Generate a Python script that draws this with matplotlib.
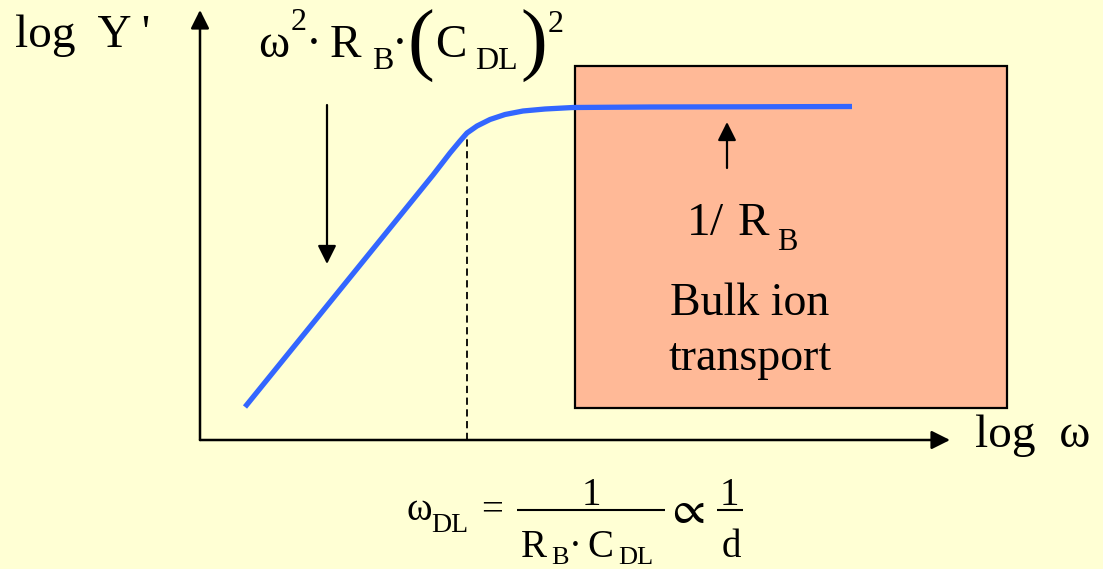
import matplotlib.pyplot as plt
from matplotlib.patches import Rectangle

plt.rcParams["mathtext.fontset"] = "stix"
SERIF = ["Liberation Serif", "DejaVu Serif"]

# admittance curve, log Y' against log omega (arbitrary units, origin at the axes corner)
log_w = [0.45, 2.33, 2.50, 2.60, 2.67, 2.77, 2.90, 3.05, 3.23, 3.45, 3.73, 4.50, 5.50, 6.52]
log_y = [0.33, 2.65, 2.87, 2.99, 3.07, 3.14, 3.205, 3.255, 3.29, 3.31, 3.325, 3.33, 3.332, 3.335]

# corner frequency omega_DL and the curve value there
w_dl = 2.67
y_dl = 3.07

# bulk ion transport region
bulk_w = (3.75, 8.07)
bulk_y = (0.32, 3.745)

# axis extents (arrow tips)
x_tip = 7.50
y_tip = 4.30

# annotation arrows: (x, y_start, y_end)
arrow_low = (1.27, 3.35, 1.76)
arrow_high = (5.27, 2.72, 3.18)

bg = "#FFFFD4"
fig = plt.figure(figsize=(11.03, 5.69), dpi=100, facecolor=bg)
ax = fig.add_axes([0, 0, 1, 1])
ax.set_facecolor(bg)
ax.set_xlim(-2.00, 9.03)
ax.set_ylim(-1.29, 4.40)
ax.axis("off")


def put(x, y, s, size, ha="center", family=SERIF):
    ax.text(x, y, s, family=family, fontsize=size, ha=ha, va="baseline", zorder=5)


ax.add_patch(Rectangle((bulk_w[0], bulk_y[0]), bulk_w[1] - bulk_w[0], bulk_y[1] - bulk_y[0],
                       facecolor="#FFB997", edgecolor="black", lw=1.6, zorder=1))

head = dict(arrowstyle="-|>,head_length=0.4,head_width=0.2", mutation_scale=28,
            color="black", shrinkA=0, shrinkB=0)

# axes with arrow heads
ax.annotate("", xy=(0, y_tip), xytext=(0, 0), arrowprops=dict(head, lw=1.8), zorder=3)
ax.annotate("", xy=(x_tip, 0), xytext=(0, 0), arrowprops=dict(head, lw=1.8), zorder=3)

ax.vlines(w_dl, 0, y_dl, colors="black", lw=1.3, linestyles=(0, (4, 2.5)), zorder=2)

ax.plot(log_w, log_y, color="#3366FF", lw=3.8, solid_capstyle="butt", zorder=4)

for x, y0, y1 in (arrow_low, arrow_high):
    ax.annotate("", xy=(x, y1), xytext=(x, y0), arrowprops=dict(head, lw=1.6), zorder=3)

# axis labels
put(-1.85, 3.93, "log  Y '", 34, ha="left")
put(7.75, -0.07, "log  ω", 34, ha="left")

# low-frequency asymptote: w^2 * R_B * (C_DL)^2
put(0.735, 3.83, "ω", 34)
put(0.99, 4.10, "2", 23)
put(1.14, 3.83, "·", 34)
put(1.45, 3.83, "R", 34)
put(1.83, 3.71, "B", 23)
put(2.00, 3.83, "·", 34)
put(2.21, 3.74, "(", 58)
put(2.51, 3.83, "C", 34)
put(2.96, 3.71, "DL", 23)
put(3.34, 3.74, ")", 58)
put(3.56, 4.08, "2", 23)

# high-frequency plateau: 1/R_B
put(4.87, 2.05, "1", 34, ha="left")
put(5.10, 2.05, "/", 34, ha="left")
put(5.38, 2.05, "R", 34, ha="left")
put(5.77, 1.90, "B", 22, ha="left")
put(5.50, 1.25, "Bulk ion", 33)
put(5.50, 0.70, "transport", 33)

# corner frequency: w_DL = 1/(R_B C_DL) ~ 1/d
put(2.19, -0.80, "ω", 28)
put(2.50, -0.915, "DL", 20)
put(2.92, -0.80, "=", 28)
put(3.91, -0.65, "1", 28)
ax.hlines(-0.70, 3.17, 4.65, colors="black", lw=1.5)
put(3.335, -1.17, "R", 28)
put(3.595, -1.24, "B", 19)
put(3.75, -1.17, "·", 28)
put(4.00, -1.17, "C", 28)
put(4.36, -1.24, "DL", 19)
put(4.86, -0.83, r"$\propto$", 34)
put(5.29, -0.65, "1", 28)
ax.hlines(-0.70, 5.17, 5.43, colors="black", lw=1.5)
put(5.31, -1.17, "d", 28)

fig.savefig("out.png", dpi=100, facecolor=bg)
